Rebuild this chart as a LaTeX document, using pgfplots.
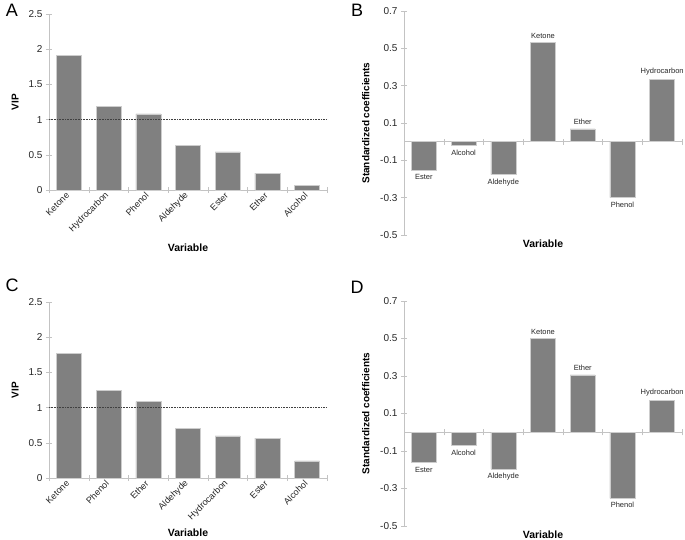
\documentclass[border=0pt]{standalone}
\usepackage{fontspec}
\setmainfont{Liberation Sans}
\usepackage{pgfplots}
\usepackage{pgfplotstable}
\pgfplotsset{compat=1.18}

\definecolor{bargray}{RGB}{128,128,128}
\definecolor{baredge}{RGB}{205,205,205}
\definecolor{axgray}{RGB}{195,195,195}

% VIP values, panels A and C
\pgfplotstableread{
x y
0 1.91
1 1.19
2 1.08
3 0.63
4 0.54
5 0.24
6 0.07
}\vipA
\pgfplotstableread{
x y
0 1.765
1 1.24
2 1.085
3 0.70
4 0.60
5 0.567
6 0.245
}\vipC

% standardized coefficients, panels B and D
\pgfplotstableread{
x y label
0 -0.152 Ester
1 -0.021 Alcohol
2 -0.177 Aldehyde
3 0.532 Ketone
4 0.068 Ether
5 -0.300 Phenol
6 0.332 Hydrocarbon
}\coefB
\pgfplotstableread{
x y label
0 -0.162 Ester
1 -0.071 Alcohol
2 -0.197 Aldehyde
3 0.500 Ketone
4 0.306 Ether
5 -0.352 Phenol
6 0.171 Hydrocarbon
}\coefD

\pgfplotsset{
  panel/.style={
    scale only axis, width=278pt, anchor=south west,
    xmin=-0.5, xmax=6.5,
    ybar, bar width=0.63,
    axis line style={axgray, -},
    axis y line*=left,
    tick align=center,
    major tick length=6pt,
    every tick/.style={axgray},
    xtick={-0.5,0.5,...,6.5},
    /pgf/number format/assume math mode=true,
    tick label style={font=\fontsize{10}{11}\selectfont, text=black!85},
    xlabel={Variable},
    xlabel style={font=\bfseries\fontsize{10.5}{12}\selectfont},
    ylabel style={font=\bfseries\fontsize{10}{12}\selectfont},
    clip=false,
  },
  vip/.style={
    panel, height=176pt,
    ymin=0, ymax=2.5, ytick={0,0.5,...,2.5},
    axis x line*=bottom,
    x tick label as interval,
    xticklabel style={font=\fontsize{9}{10}\selectfont, rotate=45, anchor=east, inner sep=1.5pt},
    xlabel style={yshift=-5pt},
    ylabel={VIP},
    ylabel style={yshift=3pt},
  },
  coef/.style={
    panel,
    ymin=-0.5, ymax=0.7, ytick={-0.5,-0.3,-0.1,0.1,0.3,0.5,0.7},
    yticklabel style={/pgf/number format/fixed, /pgf/number format/precision=1},
    axis x line*=middle,
    xticklabels={},
    x label style={at={(axis description cs:0.5,0)}, anchor=north, yshift=-1pt},
    ylabel={Standardized coefficients},
    ylabel style={yshift=4pt},
  },
  barstyle/.style={fill=bargray, draw=baredge, line width=0.5pt},
  coefbars/.style={barstyle,
    nodes near coords,
    point meta=explicit symbolic,
    visualization depends on={rawy \as \rawy},
    every node near coord/.append style={font=\fontsize{7.5}{8}\selectfont, text=black!85, inner sep=4pt},
    every node near coord/.append code={%
      \ifdim\rawy pt<0pt \pgfkeysalso{anchor=north}\else\pgfkeysalso{anchor=south}\fi},
  },
}

\begin{document}
\begin{tikzpicture}
\useasboundingbox (0,0) rectangle (685pt,539pt);

% A
\begin{axis}[vip, at={(49pt,349pt)},
  xticklabels={Ketone,Hydrocarbon,Phenol,Aldehyde,Ester,Ether,Alcohol}]
\addplot[barstyle] table[x=x,y=y] {\vipA};
\draw[black!75, densely dotted, line width=0.6pt] (axis cs:-0.5,1) -- (axis cs:6.5,1);
\end{axis}

% B
\begin{axis}[coef, height=224pt, at={(404pt,304pt)}]
\addplot[coefbars] table[x=x,y=y,meta=label] {\coefB};
\end{axis}

% C
\begin{axis}[vip, at={(49pt,61pt)}, xlabel style={yshift=3pt},
  xticklabels={Ketone,Phenol,Ether,Aldehyde,Hydrocarbon,Ester,Alcohol}]
\addplot[barstyle] table[x=x,y=y] {\vipC};
\draw[black!75, densely dotted, line width=0.6pt] (axis cs:-0.5,1) -- (axis cs:6.5,1);
\end{axis}

% D
\begin{axis}[coef, height=225pt, at={(404pt,13pt)}]
\addplot[coefbars] table[x=x,y=y,meta=label] {\coefD};
\end{axis}

% panel letters
\node[font=\fontsize{18}{20}\selectfont] at (12pt,529pt) {A};
\node[font=\fontsize{18}{20}\selectfont] at (357pt,529pt) {B};
\node[font=\fontsize{18}{20}\selectfont] at (12pt,254pt) {C};
\node[font=\fontsize{18}{20}\selectfont] at (357pt,252pt) {D};
\end{tikzpicture}
\end{document}
